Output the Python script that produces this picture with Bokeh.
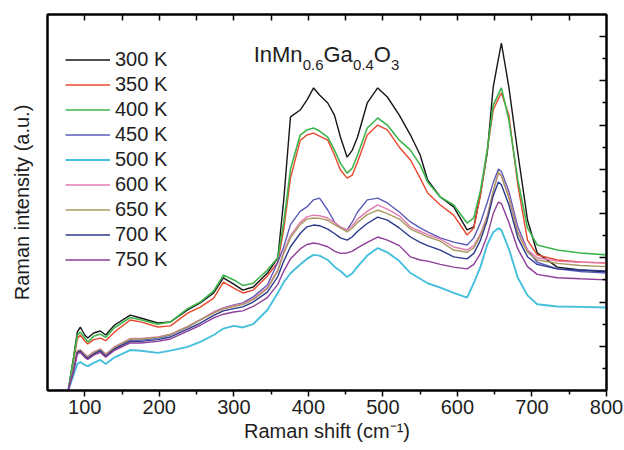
from bokeh.plotting import figure
from bokeh.models import LinearAxis, FixedTicker, Range1d, Label, Legend, LegendItem
from bokeh.embed import file_html
from bokeh.resources import INLINE

# ---------------- data ----------------
raman_shift = [50, 75, 78, 85, 90, 94, 100, 104, 112, 121, 128, 140, 161, 175, 198,
               215, 238, 255, 273, 286, 300, 312, 326, 345, 359, 367, 376, 389, 398, 407,
               415, 426, 435, 443, 452, 459, 466, 479, 493, 506, 522, 537, 550, 560, 577,
               595, 613, 622, 631, 640, 648, 655, 659, 669, 681, 694, 707, 734, 765, 800]

temperatures = ["300 K", "350 K", "400 K", "450 K", "500 K", "600 K", "650 K", "700 K", "750 K"]

i_300K = [0, 0, 0.05, 1.51, 2.64, 2.87, 2.51, 2.37, 2.60, 2.69, 2.51, 2.96, 3.41, 3.28, 3.05,
          3.10, 3.64, 3.96, 4.41, 5.09, 4.81, 4.54, 4.68, 5.31, 5.99, 8.63, 12.37, 12.68, 13.13, 13.68,
          13.36, 13.0, 12.45, 11.46, 10.55, 10.87, 11.46, 13.0, 13.68, 13.27, 12.45, 11.55, 10.65, 9.52, 8.75,
          8.30, 7.26, 7.4, 8.9, 10.74, 13.72, 15.0, 15.71, 13.72, 10.74, 7.71, 6.22, 5.58, 5.45, 5.36]
i_350K = [0, 0, 0.05, 1.3, 2.35, 2.51, 2.24, 2.1, 2.3, 2.37, 2.25, 2.65, 3.19, 3.1, 2.87,
          2.92, 3.5, 3.77, 4.18, 4.9, 4.63, 4.41, 4.54, 5.18, 5.8, 7.3, 9.6, 11.3, 11.55, 11.64,
          11.5, 11.32, 10.65, 9.97, 9.6, 9.74, 10.33, 11.55, 12.0, 11.78, 11.0, 10.42, 9.6, 8.93, 8.39,
          7.93, 7.03, 7.35, 8.84, 10.87, 12.68, 13.2, 13.45, 12.45, 9.29, 6.8, 6.13, 5.9, 5.81, 5.76]
i_400K = [0, 0, 0.05, 1.45, 2.5, 2.64, 2.37, 2.19, 2.45, 2.55, 2.4, 2.85, 3.3, 3.2, 3.0,
          3.1, 3.7, 4.0, 4.5, 5.22, 5.0, 4.75, 4.85, 5.45, 6.0, 7.6, 10.0, 11.55, 11.78, 11.87,
          11.73, 11.46, 10.87, 10.28, 9.83, 10.06, 10.65, 11.87, 12.32, 12.0, 11.32, 10.87, 10.2, 9.43, 8.75,
          8.39, 7.57, 7.8, 9.06, 10.87, 12.9, 13.4, 13.68, 12.23, 9.52, 7.35, 6.58, 6.35, 6.22, 6.13]
i_450K = [0, 0, 0.05, 0.93, 1.74, 1.8, 1.6, 1.51, 1.7, 1.83, 1.6, 1.92, 2.28, 2.28, 2.37,
          2.51, 2.87, 3.19, 3.55, 3.73, 3.87, 3.96, 4.23, 4.77, 5.8, 6.5, 7.5, 8.1, 8.3, 8.62,
          8.7, 8.16, 7.62, 7.35, 7.26, 7.62, 8.07, 8.62, 8.7, 8.48, 8.07, 7.62, 7.35, 7.17, 6.9,
          6.71, 6.58, 6.9, 7.6, 8.5, 9.4, 10.01, 9.9, 9.0, 7.4, 6.35, 5.8, 5.5, 5.38, 5.31]
i_500K = [0, 0, 0.03, 0.7, 1.2, 1.29, 1.15, 1.1, 1.25, 1.38, 1.2, 1.5, 1.83, 1.8, 1.7,
          1.8, 1.97, 2.2, 2.51, 2.8, 2.92, 2.85, 3.0, 3.64, 4.41, 4.9, 5.3, 5.7, 5.95, 6.13,
          6.1, 5.9, 5.6, 5.4, 5.13, 5.3, 5.6, 6.1, 6.44, 6.25, 5.85, 5.31, 5.05, 4.85, 4.65,
          4.41, 4.2, 4.86, 5.6, 6.6, 7.15, 7.34, 7.25, 6.4, 5.1, 4.3, 3.9, 3.8, 3.78, 3.75]
i_600K = [0, 0, 0.05, 0.95, 1.8, 1.85, 1.65, 1.55, 1.75, 1.88, 1.65, 1.98, 2.35, 2.35, 2.42,
          2.55, 2.9, 3.2, 3.55, 3.72, 3.85, 3.92, 4.15, 4.65, 5.45, 6.3, 7.0, 7.6, 7.85, 7.93,
          7.9, 7.8, 7.6, 7.4, 7.26, 7.45, 7.75, 8.1, 8.39, 8.2, 7.9, 7.39, 7.2, 7.05, 6.85,
          6.49, 6.35, 6.55, 7.1, 7.9, 9.0, 9.83, 9.7, 8.8, 7.2, 6.35, 6.0, 5.85, 5.8, 5.78]
i_650K = [0, 0, 0.05, 0.95, 1.78, 1.82, 1.62, 1.52, 1.72, 1.85, 1.62, 1.95, 2.32, 2.33, 2.4,
          2.53, 2.88, 3.18, 3.5, 3.68, 3.8, 3.88, 4.1, 4.6, 5.4, 6.2, 6.9, 7.5, 7.75, 7.8,
          7.78, 7.7, 7.5, 7.35, 7.17, 7.35, 7.6, 7.95, 8.16, 8.0, 7.75, 7.3, 7.1, 6.95, 6.75,
          6.35, 6.25, 6.45, 7.0, 7.85, 9.0, 9.88, 9.7, 8.7, 7.1, 6.25, 5.9, 5.75, 5.65, 5.6]
i_700K = [0, 0, 0.05, 0.9, 1.72, 1.78, 1.55, 1.45, 1.65, 1.8, 1.55, 1.88, 2.22, 2.22, 2.3,
          2.42, 2.78, 3.05, 3.4, 3.6, 3.7, 3.78, 4.0, 4.45, 5.15, 5.85, 6.5, 7.1, 7.4, 7.48,
          7.45, 7.3, 7.1, 6.9, 6.8, 6.95, 7.2, 7.55, 7.84, 7.7, 7.35, 6.94, 6.7, 6.55, 6.35,
          6.04, 5.95, 6.2, 6.8, 7.7, 8.8, 9.43, 9.3, 8.4, 6.9, 6.05, 5.7, 5.5, 5.45, 5.4]
i_750K = [0, 0, 0.05, 0.85, 1.65, 1.72, 1.5, 1.4, 1.6, 1.72, 1.5, 1.82, 2.15, 2.15, 2.22,
          2.33, 2.68, 2.95, 3.28, 3.45, 3.55, 3.6, 3.8, 4.2, 4.8, 5.4, 5.95, 6.4, 6.6, 6.67,
          6.62, 6.5, 6.3, 6.2, 6.22, 6.3, 6.45, 6.7, 6.94, 6.8, 6.55, 6.04, 5.9, 5.85, 5.7,
          5.58, 5.5, 5.7, 6.2, 7.0, 8.0, 8.52, 8.45, 7.6, 6.4, 5.6, 5.25, 5.1, 5.05, 5.0]

x_major_ticks = [100, 200, 300, 400, 500, 600, 700, 800]
x_minor_ticks = [150, 250, 350, 450, 550, 650, 750]
x_top_ticks = [100, 150, 200, 250, 300, 350, 400, 450, 500, 550, 600, 650, 700, 750]
y_major_ticks = [2, 4, 6, 8, 10, 12, 14, 16]
y_minor_ticks = [1, 3, 5, 7, 9, 11, 13, 15]

# ---------------- styles ----------------
FONT = "Liberation Sans"
TXT = "#1e1e1e"
colors = ["#161616", "#e8472c", "#3db54c", "#5b5bb8", "#45bfdc",
          "#e27bb0", "#a99a62", "#2c3a8e", "#8e3e98"]
widths = [1.4, 1.4, 1.6, 1.4, 1.9, 1.4, 1.4, 1.4, 1.4]
series = [i_300K, i_350K, i_400K, i_450K, i_500K, i_600K, i_650K, i_700K, i_750K]

p = figure(width=624, height=450, output_backend="svg", toolbar_location=None,
           x_range=Range1d(50, 800), y_range=Range1d(0, 17),
           min_border_left=47, min_border_right=18, min_border_top=14, min_border_bottom=60,
           background_fill_color="white", border_fill_color="white")
p.xgrid.visible = False
p.ygrid.visible = False
p.outline_line_color = "black"
p.outline_line_width = 2

# bottom axis
xb = p.xaxis[0]
xb.ticker = FixedTicker(ticks=x_major_ticks, minor_ticks=x_minor_ticks)
xb.axis_label = "Raman shift (cm\u207b\u00b9)"
xb.axis_label_text_font = FONT
xb.axis_label_text_font_size = "20px"
xb.axis_label_text_font_style = "normal"
xb.axis_label_text_color = TXT
xb.axis_label_standoff = 3
xb.major_label_text_font = FONT
xb.major_label_text_font_size = "20px"
xb.major_label_text_color = TXT
xb.major_label_standoff = 3
xb.major_tick_in = 0
xb.major_tick_out = 6
xb.minor_tick_in = 0
xb.minor_tick_out = 4
xb.axis_line_width = 2
xb.major_tick_line_width = 1.5
xb.minor_tick_line_width = 1.5

# left axis (label only)
yl = p.yaxis[0]
yl.ticker = FixedTicker(ticks=[], minor_ticks=[])
yl.axis_label = "Raman intensity (a.u.)"
yl.axis_label_text_font = FONT
yl.axis_label_text_font_size = "20px"
yl.axis_label_text_font_style = "normal"
yl.axis_label_text_color = TXT
yl.axis_label_standoff = 15
yl.major_tick_out = 0
yl.major_label_text_font_size = "0px"
yl.major_label_text_color = None
yl.axis_line_width = 2

# top axis: inward ticks, no labels
xt = LinearAxis(ticker=FixedTicker(ticks=x_top_ticks, minor_ticks=[]),
                major_tick_in=6, major_tick_out=0, minor_tick_in=0, minor_tick_out=0,
                major_label_text_font_size="0px", major_label_text_color=None,
                major_label_standoff=0,
                axis_line_width=2, major_tick_line_width=1.5)
p.add_layout(xt, "above")

# right axis: inward ticks, no labels
yr = LinearAxis(ticker=FixedTicker(ticks=y_major_ticks, minor_ticks=y_minor_ticks),
                major_tick_in=7, major_tick_out=0, minor_tick_in=4, minor_tick_out=0,
                major_label_text_font_size="0px", major_label_text_color=None,
                major_label_standoff=0,
                axis_line_width=2, major_tick_line_width=1.5, minor_tick_line_width=1.5)
p.add_layout(yr, "right")

items = []
for name, ys, c, w in zip(temperatures, series, colors, widths):
    r = p.line(raman_shift, ys, line_color=c, line_width=w)
    items.append(LegendItem(label=name, renderers=[r]))

legend = Legend(items=items, location=(18, 118), margin=0, padding=0, spacing=0,
                glyph_width=45, glyph_height=25, label_height=25, label_standoff=5,
                label_text_font=FONT, label_text_font_size="20px", label_text_color=TXT,
                background_fill_alpha=0, border_line_alpha=0)
p.add_layout(legend)

# formula title with subscripts
def px_to_x(px):
    return 50 + (px - 47) / (558.5 / 750)

pieces = [("InMn", 22, 0), ("0.6", 15, 1), ("Ga", 22, 0), ("0.4", 15, 1), ("O", 22, 0), ("3", 15, 1)]
char_w = {"I": 0.278, "n": 0.556, "M": 0.833, "0": 0.556, ".": 0.278, "6": 0.556, "4": 0.556,
          "G": 0.778, "a": 0.556, "O": 0.778, "3": 0.556}
cur = 253.0
for txt, size, sub in pieces:
    p.add_layout(Label(x=px_to_x(cur), y=(14.7 if sub else 15.17), text=txt,
                       text_font=FONT, text_font_size=f"{size}px", text_color=TXT,
                       text_baseline="alphabetic", text_align="left"))
    cur += sum(char_w[ch] for ch in txt) * size

open("out.html", "w").write(file_html(p, INLINE))
